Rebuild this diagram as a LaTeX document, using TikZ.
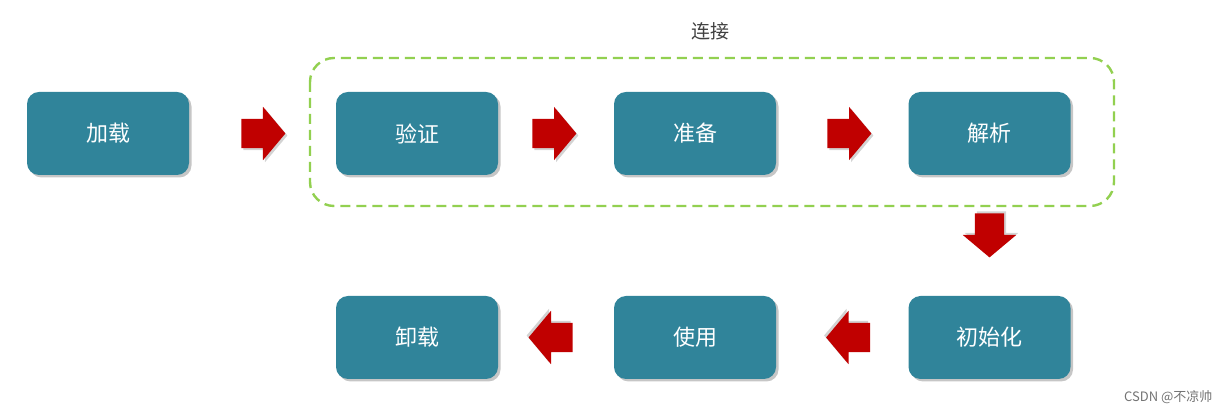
\documentclass[tikz,border=0pt]{standalone}
\usepackage{fontspec}
\newfontfamily\cjk{Noto Sans CJK SC}
\usepackage{tikz}
\usetikzlibrary{calc,shapes.arrows,shadows}
\definecolor{stagefill}{RGB}{48,132,154}
\definecolor{flowred}{RGB}{192,0,0}
\definecolor{linkgreen}{RGB}{146,208,80}

\tikzset{
  stage/.style={draw=none,fill=stagefill,rounded corners=12pt,minimum width=162pt,minimum height=83pt,
    inner sep=0pt,text=white,font=\cjk\fontsize{22}{24}\selectfont,
    drop shadow={shadow xshift=2.5pt,shadow yshift=-2.5pt,opacity=0.45}},
  flow/.style={single arrow,draw=none,fill=flowred,minimum height=44pt,minimum width=53pt,
    single arrow head extend=12pt,single arrow tip angle=100,inner xsep=0pt,inner ysep=14.5pt,
    anchor=tail,drop shadow={shadow xshift=#1,opacity=0.35}},
  flow/.default={2pt,shadow yshift=-2pt}
}

\begin{document}
\begin{tikzpicture}[x=1pt,y=1pt]
\useasboundingbox (0,0) rectangle (1229,414);
% top row
\node[stage] (load) at (108,280.5) {加载};
\node[stage] (verify) at (417,280.5) {验证};
\node[stage] (prepare) at (695,280.5) {准备};
\node[stage] (resolve) at (989.5,280.5) {解析};
% bottom row
\node[stage] (unload) at (417,76.5) {卸载};
\node[stage] (use) at (695,76.5) {使用};
\node[stage] (init) at (989.5,76.5) {初始化};
% link group
\draw[linkgreen,line width=2.4pt,dash pattern=on 10pt off 6pt,rounded corners=24pt]
  (310,356) rectangle (1114,208);
\node[font=\cjk\fontsize{19}{21}\selectfont,text=black!75] (linklabel) at (710,383) {连接};
% block arrows (shadow offset turned with the arrow)
\node[flow] (a1) at ($(load.east)+(52,0)$) {};
\node[flow] (a2) at ($(verify.east)+(34,0)$) {};
\node[flow] (a3) at ($(prepare.east)+(51,0)$) {};
\node[flow={2pt,shadow yshift=2pt},rotate=-90] (a4) at ($(resolve.south)+(0,-38)$) {};
\node[flow={-2pt,shadow yshift=2pt},rotate=180] (a5) at ($(init.west)+(-38,0)$) {};
\node[flow={-2pt,shadow yshift=2pt},rotate=180] (a6) at ($(use.west)+(-41,0)$) {};
% watermark
\node[font=\cjk\fontsize{13}{15}\selectfont,text=black!55,anchor=east] (mark) at (1216,17) {CSDN @不凉帅};
\end{tikzpicture}
\end{document}
